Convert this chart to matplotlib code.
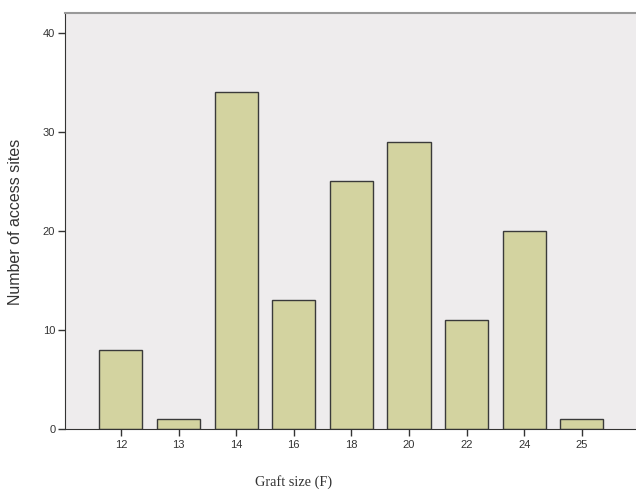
import matplotlib
matplotlib.use("Agg")
import matplotlib.pyplot as plt

categories = ["12", "13", "14", "16", "18", "20", "22", "24", "25"]
counts = [8, 1, 34, 13, 25, 29, 11, 20, 1]
yticks = [0, 10, 20, 30, 40]

fig = plt.figure(figsize=(6.36, 4.92), dpi=100)
fig.patch.set_facecolor("white")
ax = fig.add_axes([65/636, 1-429/492, 1-65/636, (429-13)/492])
ax.set_facecolor("#eeeced")

x = list(range(len(categories)))
ax.bar(x, counts, width=0.75, color="#d3d3a0", edgecolor="#3a3a3a", linewidth=1.0, zorder=2)

ax.set_xlim(-0.97, 8.94)
ax.set_ylim(0, 42)
ax.set_xticks(x)
ax.set_xticklabels(categories, fontsize=8, family="Liberation Sans", color="#333333")
ax.set_yticks(yticks)
ax.set_yticklabels([str(v) for v in yticks], fontsize=8, family="Liberation Sans", color="#333333")
ax.tick_params(axis="both", length=5, width=1.0, color="#333333")
ax.tick_params(axis="x", pad=3)
ax.tick_params(axis="y", pad=2)

ax.spines["right"].set_visible(False)
ax.spines["top"].set_color("#999999")
ax.spines["top"].set_linewidth(1.5)
ax.spines["left"].set_color("#333333")
ax.spines["bottom"].set_color("#333333")

fig.text(16/636, 1-222/492, "Number of access sites", rotation=90, ha="center", va="center",
         fontsize=11.5, family="Liberation Sans", color="#333333")
fig.text(294/636, 1-482/492, "Graft size (F)", ha="center", va="center",
         fontsize=10.3, family="Liberation Serif", color="#333333")

fig.savefig("out.png", dpi=100)
